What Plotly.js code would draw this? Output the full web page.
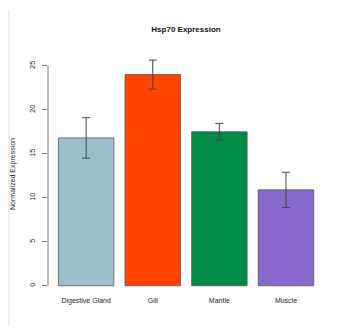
<!DOCTYPE html>
<html><head><meta charset="utf-8">
<script src="https://cdn.plot.ly/plotly-3.0.1.min.js"></script>
<style>body{margin:0;background:#fff}#c{width:343px;height:331px}</style>
</head><body><div id="c"></div>
<script>
const categories = ["Digestive Gland", "Gill", "Mantle", "Muscle"];
const values = [16.8, 24.0, 17.5, 10.9];
const errors = [2.3, 1.65, 0.95, 2.0];
const colors = ["#9AC0CD", "#FF4500", "#008B45", "#8968CD"];
const yTicks = [0, 5, 10, 15, 20, 25];

const trace = {
  type: "bar", x: categories, y: values,
  marker: {color: colors, line: {color: "#555", width: 0.8}},
  error_y: {type: "data", array: errors, visible: true, color: "#444", thickness: 1, width: 4}
};
const layout = {
  width: 343, height: 331,
  margin: {l: 48, r: 19, t: 57, b: 40},
  paper_bgcolor: "#fff", plot_bgcolor: "#fff",
  bargap: 0.1667,
  showlegend: false,
  title: {text: "<b>Hsp70 Expression</b>", font: {family: "Liberation Sans, Arial", size: 8, color: "#111"}, xref: "paper", x: 0.5, xanchor: "center", y: 0.912, yanchor: "middle"},
  xaxis: {type: "category", range: [-0.573, 3.571], showline: false, showgrid: false, zeroline: false, ticks: "", ticklabelstandoff: 4, tickfont: {family: "Liberation Sans, Arial", size: 7, color: "#222"}},
  yaxis: {range: [-0.6, 26], tickvals: yTicks, ticktext: yTicks.map(String), tickangle: -90, showline: false, showgrid: false, zeroline: false, ticks: "outside", ticklen: 5, tickcolor: "#777", ticklabelstandoff: 4, tickfont: {family: "Liberation Sans, Arial", size: 7, color: "#222"},
    title: {text: "Normalized Expression", font: {family: "Liberation Sans, Arial", size: 7, color: "#222"}, standoff: 12}},
  shapes: [
    {type: "line", xref: "paper", yref: "y", x0: 0, x1: 0, y0: 0, y1: 25, line: {color: "#777", width: 1}},
    {type: "line", xref: "paper", yref: "paper", x0: -0.1413, x1: -0.1413, y0: -0.15, y1: 1.2, line: {color: "#ddd", width: 1}}
  ]
};
Plotly.newPlot("c", [trace], layout, {displayModeBar: false, staticPlot: true});
</script></body></html>
